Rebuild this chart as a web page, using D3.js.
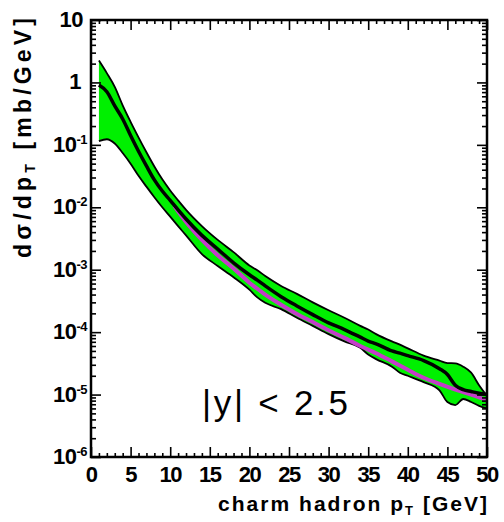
<!DOCTYPE html>
<html>
<head>
<meta charset="utf-8">
<script src="https://cdn.jsdelivr.net/npm/d3@7"></script>
<style>
  body { margin: 0; background: #fff; }
  svg { display: block; font-family: "Liberation Sans", Arial, sans-serif; }
  .frame { fill: none; stroke: #000; stroke-width: 2.5; }
  .tk line { stroke: #000; stroke-width: 1.6; }
  .tk path { display: none; }
  .lab { font-weight: bold; fill: #000; }
</style>
</head>
<body>
<script>
// pT grid (GeV) shared by the band and the central curve
const pt = [1,2,3,4,5,6,7,8,9,10,11,12,14,16,18,20,21,22,24,26,28,30,32,34,35,36,38,39,40,42,44,45,46,47,48,49,50];
// dsigma/dpT [mb/GeV]
const central = [0.91,0.71,0.42,0.26,0.141,0.079,0.046,0.0275,0.0182,0.0129,9.1e-3,6.5e-3,3.55e-3,2.14e-3,1.29e-3,8.3e-4,6.8e-4,5.5e-4,3.7e-4,2.63e-4,1.91e-4,1.41e-4,1.10e-4,8.3e-5,7.2e-5,6.5e-5,5.0e-5,4.6e-5,4.2e-5,3.5e-5,2.6e-5,2.1e-5,1.41e-5,1.20e-5,1.12e-5,1.05e-5,1.0e-5];
const upper = [2.24,1.41,0.85,0.43,0.234,0.132,0.076,0.045,0.028,0.0186,0.0129,9.1e-3,5.0e-3,3.0e-3,1.91e-3,1.17e-3,9.8e-4,7.9e-4,5.5e-4,4.1e-4,3.0e-4,2.24e-4,1.70e-4,1.26e-4,1.10e-4,9.3e-5,7.1e-5,6.3e-5,5.5e-5,4.2e-5,3.5e-5,3.2e-5,3.16e-5,2.8e-5,2.24e-5,1.41e-5,9.5e-6];
const lower = [0.115,0.123,0.105,0.074,0.050,0.032,0.0214,0.0145,0.0100,7.1e-3,5.0e-3,3.55e-3,1.78e-3,1.15e-3,7.6e-4,4.8e-4,3.6e-4,2.95e-4,2.34e-4,1.70e-4,1.26e-4,9.3e-5,7.1e-5,5.6e-5,4.4e-5,3.7e-5,2.8e-5,2.24e-5,2.0e-5,1.58e-5,1.17e-5,7.6e-6,6.8e-6,8.5e-6,7.6e-6,6.6e-6,6.0e-6];
// magenta comparison curve
const ptMag = [10.5,12,14,16,18,20,22,24,26,28,30,32,34,36,38,40,42,44,46,48,50];
const magenta = [1.05e-2,5.8e-3,3.0e-3,1.70e-3,1.05e-3,6.2e-4,4.0e-4,2.75e-4,1.95e-4,1.45e-4,1.07e-4,8.1e-5,6.0e-5,4.6e-5,3.4e-5,2.5e-5,1.86e-5,1.48e-5,1.20e-5,1.0e-5,8.1e-6];
// axis ticks
const xTicks = [0,5,10,15,20,25,30,35,40,45,50];
const yDecades = [1,0,-1,-2,-3,-4,-5,-6];

const W = 504, H = 522;
const margin = {top: 20, right: 17, bottom: 65, left: 91};

const svg = d3.select("body").append("svg")
    .attr("width", W).attr("height", H);

const x = d3.scaleLinear().domain([0, 50]).range([margin.left, W - margin.right]);
const y = d3.scaleLog().domain([1e-6, 10]).range([H - margin.bottom, margin.top]);

svg.append("clipPath").attr("id", "plot")
  .append("rect")
    .attr("x", margin.left).attr("y", margin.top)
    .attr("width", x(50) - x(0)).attr("height", y(1e-6) - y(10));

const rows = pt.map((p, i) => ({p, c: central[i], u: upper[i], l: lower[i]}));
const plot = svg.append("g").attr("clip-path", "url(#plot)");

// green uncertainty band
plot.append("path")
    .attr("d", d3.area().curve(d3.curveMonotoneX)
      .x(d => x(d.p)).y0(d => y(d.l)).y1(d => y(d.u))(rows))
    .attr("fill", "#00f000");

const edge = key => d3.line().curve(d3.curveMonotoneX)
    .x(d => x(d.p)).y(d => y(d[key]));

plot.append("path").attr("d", edge("u")(rows))
    .attr("fill", "none").attr("stroke", "#000").attr("stroke-width", 1.8);
plot.append("path").attr("d", edge("l")(rows))
    .attr("fill", "none").attr("stroke", "#000").attr("stroke-width", 1.8);

// magenta curve
plot.append("path")
    .attr("d", d3.line().curve(d3.curveMonotoneX)
      .x((d, i) => x(ptMag[i])).y(d => y(d))(magenta))
    .attr("fill", "none").attr("stroke", "#c43cc8").attr("stroke-width", 4);

// central curve
plot.append("path").attr("d", edge("c")(rows))
    .attr("fill", "none").attr("stroke", "#000").attr("stroke-width", 3.5);

// ticks on all four sides, pointing inside
const majorY = yDecades.map(e => Math.pow(10, e));
const minorY = [];
yDecades.slice(1).forEach(e => {
  for (let k = 2; k <= 9; k++) minorY.push(k * Math.pow(10, e));
});
const minorX = d3.range(0, 51).filter(v => v % 5 !== 0);

function ticks(axisFn, scale, pos, vals, size) {
  svg.append("g").attr("class", "tk")
      .attr("transform", pos)
      .call(axisFn(scale).tickValues(vals).tickSize(-size).tickFormat(""));
}
ticks(d3.axisLeft, y, `translate(${margin.left},0)`, majorY, 10);
ticks(d3.axisLeft, y, `translate(${margin.left},0)`, minorY, 5);
ticks(d3.axisRight, y, `translate(${W - margin.right},0)`, majorY, 10);
ticks(d3.axisRight, y, `translate(${W - margin.right},0)`, minorY, 5);
ticks(d3.axisBottom, x, `translate(0,${H - margin.bottom})`, xTicks, 10);
ticks(d3.axisBottom, x, `translate(0,${H - margin.bottom})`, minorX, 4);
ticks(d3.axisTop, x, `translate(0,${margin.top})`, xTicks, 10);
ticks(d3.axisTop, x, `translate(0,${margin.top})`, minorX, 4);

svg.append("rect").attr("class", "frame")
    .attr("x", margin.left).attr("y", margin.top)
    .attr("width", x(50) - x(0)).attr("height", y(1e-6) - y(10));

// y tick labels
yDecades.forEach(e => {
  const t = svg.append("text").attr("class", "lab")
      .attr("y", y(Math.pow(10, e)) + 7)
      .attr("text-anchor", "end")
      .style("font-size", "22px").style("letter-spacing", "-0.5px");
  if (e === 1) { t.attr("x", 83).text("10"); }
  else if (e === 0) { t.attr("x", 81).text("1"); }
  else {
    t.attr("x", 87);
    t.append("tspan").text("10");
    t.append("tspan").attr("dy", -8).style("font-size", "13px").text("-" + (-e));
  }
});

// x tick labels
xTicks.forEach(v => {
  svg.append("text").attr("class", "lab")
      .attr("x", x(v)).attr("y", 482)
      .attr("text-anchor", "middle")
      .style("font-size", "22px").style("letter-spacing", "-1.5px")
      .text(v);
});

// axis titles
const xt = svg.append("text").attr("class", "lab")
    .attr("x", 218).attr("y", 511)
    .attr("textLength", 269).attr("lengthAdjust", "spacing")
    .style("font-size", "21px");
xt.append("tspan").text("charm hadron p");
xt.append("tspan").attr("dy", 4).style("font-size", "13px").text("T");
xt.append("tspan").attr("dy", -4).text(" [GeV]");

const yt = svg.append("text").attr("class", "lab")
    .attr("transform", "translate(31,258) rotate(-90)")
    .attr("textLength", 240).attr("lengthAdjust", "spacing")
    .style("font-size", "23px");
yt.append("tspan").text("dσ/dp");
yt.append("tspan").attr("dy", 4).style("font-size", "14px").text("T");
yt.append("tspan").attr("dy", -4).text(" [mb/GeV]");

// rapidity annotation
svg.append("text")
    .attr("x", 202).attr("y", 415)
    .attr("textLength", 146).attr("lengthAdjust", "spacing")
    .style("font-size", "35px")
    .text("|y| < 2.5");
</script>
</body>
</html>
